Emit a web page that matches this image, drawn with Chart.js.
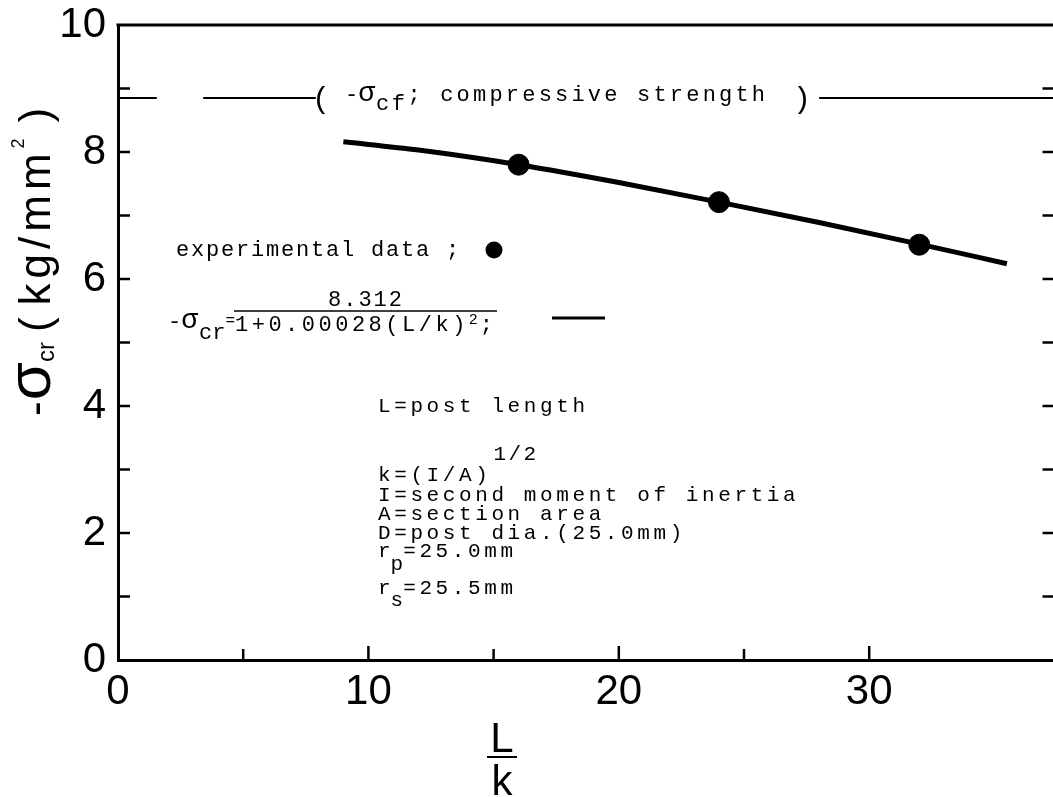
<!DOCTYPE html>
<html>
<head>
<meta charset="utf-8">
<script src="https://cdn.jsdelivr.net/npm/chart.js@4.4.1/dist/chart.umd.min.js"></script>
<style>
  html, body { margin: 0; padding: 0; background: #fff; overflow: hidden; }
  canvas { display: block; }
</style>
</head>
<body>
<canvas id="buckling" width="1066" height="797"></canvas>
<script>
// slenderness ratio L/k against critical stress -σcr (kg/mm²)
const curveLk = [9.0, 12, 16, 20, 24, 28, 32, 35.5];
const curveSigma = [8.16, 8.03, 7.80, 7.52, 7.21, 6.89, 6.55, 6.24];

// measured buckling stresses
const testLk = [16, 24, 32];
const testSigma = [7.80, 7.21, 6.54];

// -σcf, compressive strength of the post
const strengthSigma = 8.85;

const xLabels = [0, 10, 20, 30];
const yLabels = [0, 2, 4, 6, 8, 10];

const sans = s => s + 'px "Liberation Sans", Arial, sans-serif';
const mono = s => s + 'px "Liberation Mono", "Courier New", monospace';

function toXY(xs, ys) {
  return xs.map((v, i) => ({ x: v, y: ys[i] }));
}

// the strength level is broken where its caption sits
const strengthRuns = [[0, 1.55], [3.4, 7.9], [28.0, 40]];
const strengthData = [];
strengthRuns.forEach(r => {
  strengthData.push({ x: r[0], y: strengthSigma }, { x: r[1], y: strengthSigma }, { x: r[1] + 0.01, y: null });
});

function rich(ctx, x, y, parts) {
  parts.forEach(p => {
    ctx.font = p.font;
    ctx.letterSpacing = (p.ls || 0) + 'px';
    ctx.fillText(p.t, x, y + (p.dy || 0));
    x += ctx.measureText(p.t).width + (p.gap || 0);
  });
  ctx.letterSpacing = '0px';
  return x;
}

function seg(ctx, x1, y1, x2, y2) {
  ctx.beginPath();
  ctx.moveTo(x1, y1);
  ctx.lineTo(x2, y2);
  ctx.stroke();
}

const paperAxes = {
  id: 'paperAxes',
  afterDraw(chart) {
    const { ctx, chartArea: a, scales: { x, y } } = chart;
    ctx.save();
    ctx.strokeStyle = '#000';
    ctx.fillStyle = '#000';
    ctx.lineCap = 'butt';

    // top frame
    ctx.lineWidth = 3;
    seg(ctx, a.left - 1.5, a.top, a.right, a.top);

    // inward ticks
    ctx.lineWidth = 2.5;
    x.ticks.forEach(t => {
      if (t.value === 0 || t.value % 5 !== 0) return;
      const px = x.getPixelForValue(t.value);
      seg(ctx, px, a.bottom, px, a.bottom - (t.value % 10 === 0 ? 14 : 11));
    });
    y.ticks.forEach(t => {
      if (t.value === 0 || t.value === 10) return;
      const py = y.getPixelForValue(t.value);
      seg(ctx, a.left, py, a.left + 12, py);
      seg(ctx, a.right - 12, py, a.right, py);
    });

    // y axis title
    ctx.save();
    ctx.translate(50, 416);
    ctx.rotate(-Math.PI / 2);
    rich(ctx, 0, 0, [
      { t: '-', font: sans(44), gap: 1 },
      { t: 'σ', font: sans(62) },
      { t: 'cr', font: sans(24), dy: 4, gap: 10 },
      { t: '(', font: sans(44), gap: 12 },
      { t: 'kg/mm', font: sans(44), ls: 5 },
      { t: '2', font: sans(18), dy: -26, gap: 16 },
      { t: ')', font: sans(44) }
    ]);
    ctx.restore();

    // x axis title L/k
    ctx.textAlign = 'center';
    ctx.font = sans(42);
    ctx.fillText('L', 502, 752);
    ctx.fillText('k', 502, 795);
    ctx.lineWidth = 2;
    seg(ctx, 487, 757, 517, 757);
    ctx.textAlign = 'left';

    // compressive strength caption
    ctx.font = mono(30);
    ctx.fillText('(', 312, 108);
    rich(ctx, 345, 101, [
      { t: '-', font: mono(22) },
      { t: 'σ', font: mono(28), gap: 1 },
      { t: 'cf', font: mono(22), ls: 2.5, dy: 9 },
      { t: '; compressive strength', font: mono(22), ls: 3.2 }
    ]);
    ctx.font = mono(30);
    ctx.fillText(')', 793, 108);

    // key
    rich(ctx, 176, 256, [{ t: 'experimental data ;', font: mono(22), ls: 1.8 }]);
    ctx.beginPath();
    ctx.arc(494, 250, 8.5, 0, Math.PI * 2);
    ctx.fill();

    rich(ctx, 168, 328, [
      { t: '-', font: mono(22) },
      { t: 'σ', font: mono(28), gap: 1 },
      { t: 'cr', font: mono(22), dy: 11 },
      { t: '=', font: mono(16), dy: -3 }
    ]);
    ctx.textAlign = 'center';
    rich(ctx, 366, 306, [{ t: '8.312', font: mono(22), ls: 2 }]);
    ctx.textAlign = 'left';
    ctx.lineWidth = 1.5;
    seg(ctx, 234, 311, 497, 311);
    rich(ctx, 235, 331, [
      { t: '1+0.00028(L/k)', font: mono(22), ls: 3.5 },
      { t: '2', font: mono(15), dy: -7, gap: 2 },
      { t: ';', font: mono(22) }
    ]);
    ctx.lineWidth = 3;
    seg(ctx, 552, 318, 605, 318);

    // nomenclature
    const nx = 378;
    const f = mono(21);
    const ls = 3.6;
    rich(ctx, nx, 412, [{ t: 'L=post length', font: f, ls }]);
    rich(ctx, nx, 481, [
      { t: 'k=(I/A)', font: f, ls, gap: 2 },
      { t: '1/2', font: f, ls: 2.5, dy: -21 }
    ]);
    rich(ctx, nx, 501, [{ t: 'I=second moment of inertia', font: f, ls }]);
    rich(ctx, nx, 520, [{ t: 'A=section area', font: f, ls }]);
    rich(ctx, nx, 539, [{ t: 'D=post dia.(25.0mm)', font: f, ls }]);
    rich(ctx, nx, 557, [
      { t: 'r', font: f },
      { t: 'p', font: f, dy: 13 },
      { t: '=25.0mm', font: f, ls }
    ]);
    rich(ctx, nx, 594, [
      { t: 'r', font: f },
      { t: 's', font: f, dy: 12 },
      { t: '=25.5mm', font: f, ls }
    ]);

    ctx.restore();
  }
};

const chart = new Chart(document.getElementById('buckling').getContext('2d'), {
  type: 'scatter',
  data: {
    datasets: [
      {
        label: 'strength',
        data: strengthData,
        showLine: true,
        spanGaps: false,
        borderColor: '#000',
        borderWidth: 2,
        pointRadius: 0
      },
      {
        label: 'theory',
        data: toXY(curveLk, curveSigma),
        showLine: true,
        borderColor: '#000',
        borderWidth: 5,
        cubicInterpolationMode: 'monotone',
        pointRadius: 0
      },
      {
        label: 'experimental data',
        data: toXY(testLk, testSigma),
        backgroundColor: '#000',
        borderColor: '#000',
        pointRadius: 10.5,
        pointHoverRadius: 10.5
      }
    ]
  },
  options: {
    responsive: false,
    animation: false,
    events: [],
    layout: { padding: { top: 25, left: 0, right: 0, bottom: 0 } },
    plugins: {
      legend: { display: false },
      tooltip: { enabled: false }
    },
    scales: {
      x: {
        type: 'linear',
        min: 0,
        max: 37.4,
        afterFit: s => { s.height = 137; },
        grid: { display: true, drawOnChartArea: false, drawTicks: false },
        border: { display: true, color: '#000', width: 3 },
        ticks: {
          stepSize: 5,
          autoSkip: false,
          maxRotation: 0,
          padding: 11,
          color: '#000',
          font: { family: '"Liberation Sans", Arial, sans-serif', size: 42, lineHeight: 1 },
          callback: v => xLabels.includes(v) ? String(v) : ''
        }
      },
      y: {
        min: 0,
        max: 10,
        afterFit: s => { s.width = 118; },
        grid: { display: true, drawOnChartArea: false, drawTicks: false },
        border: { display: true, color: '#000', width: 3 },
        ticks: {
          stepSize: 1,
          autoSkip: false,
          padding: 12,
          color: '#000',
          font: { family: '"Liberation Sans", Arial, sans-serif', size: 42, lineHeight: 0.3 },
          callback: v => yLabels.includes(v) ? String(v) : ''
        }
      }
    }
  },
  plugins: [paperAxes]
});
</script>
</body>
</html>
